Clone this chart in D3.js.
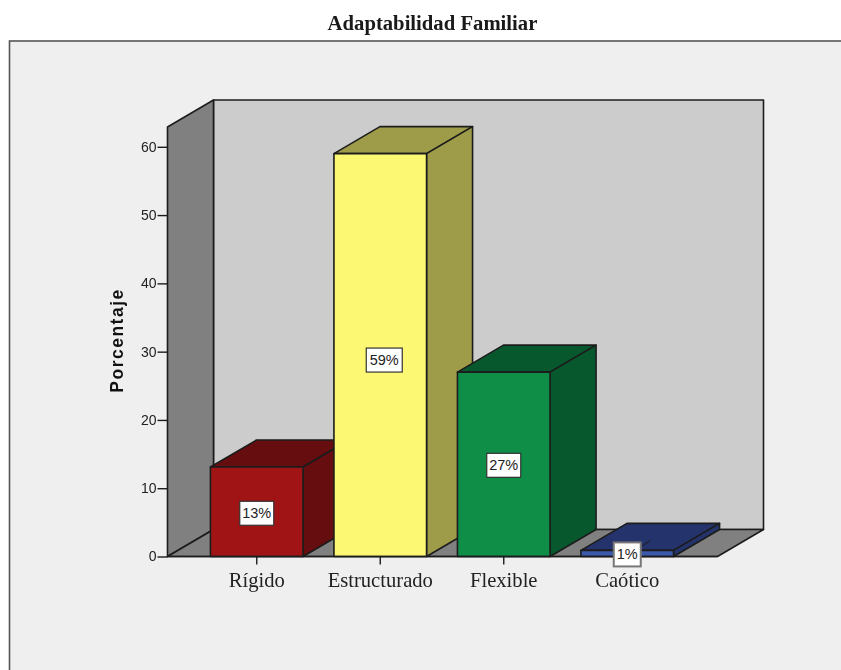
<!DOCTYPE html>
<html><head><meta charset="utf-8">
<script src="https://cdn.jsdelivr.net/npm/d3@7"></script>
<style>html,body{margin:0;padding:0;background:#fff;overflow:hidden}svg{display:block;filter:blur(0.35px)}</style>
</head><body><svg id="c" width="841" height="670"></svg>
<script>
const chartTitle = "Adaptabilidad Familiar";
const yTitle = "Porcentaje";
const categories = ["Rígido", "Estructurado", "Flexible", "Caótico"];
const values = [13.1, 59, 27, 0.9];
const labels = ["13%", "59%", "27%", "1%"];
const yTicks = [0, 10, 20, 30, 40, 50, 60];
const yMax = 62.9;
const frontColors = ["#a01416", "#fcf873", "#0f8e48", "#3b5aab"];
const sideColors = ["#650d0f", "#9f9c49", "#07592d", "#24336b"];

const svg = d3.select("#c");
const ink = "#1c1c1c";
const dx = 46, dy = -27;
const y = d3.scaleLinear().domain([0, yMax]).range([556.5, 127]);
const x = d3.scaleBand().domain(categories).range([195, 689]).paddingInner(0.25).paddingOuter(0.125);
const left = 167.5, right = 717.5, y0 = y(0), yT = y(yMax);
const poly = (g, pts, fill, sw = 1.6) => g.append("path")
  .attr("d", d3.line()(pts) + "Z").attr("fill", fill).attr("stroke", ink)
  .attr("stroke-width", sw).attr("stroke-linejoin", "round");

// frame
svg.append("rect").attr("x", 9.5).attr("y", 41).attr("width", 840).attr("height", 640)
  .attr("fill", "#efefef").attr("stroke", "#555").attr("stroke-width", 1.6);

svg.append("text").attr("x", 432.5).attr("y", 30).attr("text-anchor", "middle")
  .attr("font-family", "Liberation Serif").attr("font-weight", "bold").attr("font-size", 20.7)
  .attr("fill", "#1a1a1a").text(chartTitle);

// walls and floor
const room = svg.append("g");
poly(room, [[left + dx, yT + dy], [right + dx, yT + dy], [right + dx, y0 + dy], [left + dx, y0 + dy]], "#cccccc");
poly(room, [[left, yT], [left + dx, yT + dy], [left + dx, y0 + dy], [left, y0]], "#808080");
poly(room, [[left, y0], [left + dx, y0 + dy], [right + dx, y0 + dy], [right, y0]], "#808080");

// axes
const yAxis = svg.append("g").attr("transform", `translate(${left},0)`)
  .call(d3.axisLeft(y).tickValues(yTicks).tickSize(10).tickPadding(1));
yAxis.select(".domain").remove();
yAxis.selectAll("line").attr("stroke", ink).attr("stroke-width", 1.4);
yAxis.selectAll("text").attr("font-family", "Liberation Sans").attr("font-size", 14).attr("fill", "#222");

const xAxis = svg.append("g").attr("transform", `translate(0,${y0})`)
  .call(d3.axisBottom(x).tickSize(8).tickPadding(8));
xAxis.select(".domain").remove();
xAxis.selectAll("line").attr("stroke", ink).attr("stroke-width", 1.4);
xAxis.selectAll("text").attr("font-family", "Liberation Serif").attr("font-size", 20.6).attr("fill", "#222");

svg.append("text").attr("transform", "translate(123,340.5) rotate(-90)").attr("text-anchor", "middle")
  .attr("font-family", "Liberation Sans").attr("font-weight", "bold").attr("font-size", 17.5)
  .attr("letter-spacing", 1.5).attr("fill", "#111").text(yTitle);

// bars
const bars = svg.append("g");
categories.forEach((c, i) => {
  const g = bars.append("g");
  const x0 = x(c), x1 = x0 + x.bandwidth(), t = y(values[i]);
  poly(g, [[x0, t], [x0 + dx, t + dy], [x1 + dx, t + dy], [x1, t]], sideColors[i]);
  poly(g, [[x1, t], [x1 + dx, t + dy], [x1 + dx, y0 + dy], [x1, y0]], sideColors[i]);
  poly(g, [[x0, t], [x1, t], [x1, y0], [x0, y0]], frontColors[i]);
});
// front floor edge over the bars
svg.append("line").attr("x1", left).attr("x2", right).attr("y1", y0).attr("y2", y0)
  .attr("stroke", ink).attr("stroke-width", 1.6);

// leader line of the smallest bar
const lx = x(categories[3]) + x.bandwidth() / 2;
svg.append("line").attr("x1", lx + 14).attr("y1", y0 - 10).attr("x2", lx + 23).attr("y2", y0 - 16)
  .attr("stroke", ink).attr("stroke-width", 1);

// value labels
const nudgeX = [0, 4, 0, 0], nudgeY = [1.5, 5, 1, 1];
const boxW = [34, 36, 34, 27];
labels.forEach((l, i) => {
  const c = categories[i];
  const cx = x(c) + x.bandwidth() / 2 + nudgeX[i];
  const cy = (y(values[i]) + y0) / 2 + nudgeY[i];
  const g = svg.append("g").attr("transform", `translate(${cx},${cy})`);
  g.append("rect").attr("x", -boxW[i] / 2).attr("y", -12).attr("width", boxW[i]).attr("height", 24)
    .attr("fill", "#fff").attr("stroke", i === 3 ? "#777" : "#333").attr("stroke-width", i === 3 ? 2 : 1.2);
  g.append("text").attr("text-anchor", "middle").attr("y", 5).attr("font-family", "Liberation Sans")
    .attr("font-size", 14.5).attr("fill", "#222").text(l);
});
</script></body></html>
